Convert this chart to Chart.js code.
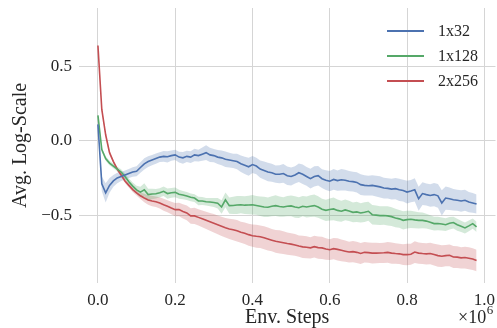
<!DOCTYPE html>
<html>
<head>
<meta charset="utf-8">
<script src="https://cdn.jsdelivr.net/npm/chart.js@4/dist/chart.umd.min.js"></script>
<style>
html,body{margin:0;padding:0;background:#fff;}
#wrap{width:497px;height:328px;position:relative;}
</style>
</head>
<body>
<div id="wrap"><canvas id="c" width="497" height="328"></canvas></div>
<script>
const steps = [0.00,0.01,0.02,0.03,0.04,0.05,0.06,0.07,0.08,0.09,
0.10,0.11,0.12,0.13,0.14,0.15,0.16,0.17,0.18,0.19,
0.20,0.21,0.22,0.23,0.24,0.25,0.26,0.27,0.28,0.29,
0.30,0.31,0.32,0.33,0.34,0.35,0.36,0.37,0.38,0.39,
0.40,0.41,0.42,0.43,0.44,0.45,0.46,0.47,0.48,0.49,
0.50,0.51,0.52,0.53,0.54,0.55,0.56,0.57,0.58,0.59,
0.60,0.61,0.62,0.63,0.64,0.65,0.66,0.67,0.68,0.69,
0.70,0.71,0.72,0.73,0.74,0.75,0.76,0.77,0.78,0.79,
0.80,0.81,0.82,0.83,0.84,0.85,0.86,0.87,0.88,0.89,
0.90,0.91,0.92,0.93,0.94,0.95,0.96,0.97,0.98];

const seriesNames = ["1x32","1x128","2x256"];

const mean1x32 = [0.11,-0.29,-0.35,-0.30,-0.27,-0.25,-0.24,-0.23,-0.22,-0.21,
-0.205,-0.18,-0.155,-0.14,-0.13,-0.12,-0.11,-0.105,-0.108,-0.10,
-0.095,-0.11,-0.115,-0.105,-0.11,-0.095,-0.10,-0.09,-0.08,-0.095,
-0.10,-0.11,-0.115,-0.125,-0.13,-0.135,-0.14,-0.155,-0.165,-0.175,
-0.16,-0.17,-0.19,-0.20,-0.21,-0.215,-0.225,-0.225,-0.22,-0.235,
-0.24,-0.23,-0.215,-0.225,-0.24,-0.255,-0.24,-0.235,-0.255,-0.265,
-0.272,-0.26,-0.268,-0.262,-0.265,-0.272,-0.275,-0.28,-0.295,-0.30,
-0.302,-0.30,-0.305,-0.31,-0.318,-0.32,-0.325,-0.322,-0.33,-0.335,
-0.345,-0.338,-0.33,-0.39,-0.355,-0.362,-0.368,-0.362,-0.37,-0.418,
-0.385,-0.39,-0.396,-0.40,-0.405,-0.40,-0.412,-0.418,-0.425];

const mean1x128 = [0.17,-0.06,-0.12,-0.15,-0.17,-0.19,-0.21,-0.24,-0.275,-0.305,
-0.33,-0.345,-0.33,-0.362,-0.358,-0.356,-0.35,-0.34,-0.355,-0.35,
-0.347,-0.36,-0.365,-0.372,-0.38,-0.385,-0.405,-0.405,-0.41,-0.412,
-0.415,-0.42,-0.445,-0.397,-0.436,-0.435,-0.432,-0.43,-0.433,-0.432,
-0.43,-0.435,-0.44,-0.445,-0.447,-0.44,-0.436,-0.442,-0.445,-0.44,
-0.438,-0.445,-0.45,-0.44,-0.445,-0.44,-0.436,-0.445,-0.46,-0.468,
-0.462,-0.458,-0.468,-0.474,-0.465,-0.472,-0.481,-0.478,-0.485,-0.48,
-0.474,-0.497,-0.50,-0.503,-0.502,-0.505,-0.51,-0.519,-0.525,-0.535,
-0.53,-0.528,-0.532,-0.535,-0.535,-0.54,-0.548,-0.557,-0.556,-0.56,
-0.564,-0.555,-0.55,-0.565,-0.575,-0.586,-0.572,-0.557,-0.579];

const mean2x256 = [0.64,0.21,0.04,-0.08,-0.14,-0.19,-0.23,-0.27,-0.30,-0.328,
-0.35,-0.37,-0.385,-0.398,-0.405,-0.41,-0.418,-0.43,-0.44,-0.452,
-0.463,-0.462,-0.475,-0.485,-0.505,-0.505,-0.515,-0.525,-0.535,-0.545,
-0.555,-0.565,-0.575,-0.585,-0.593,-0.598,-0.605,-0.615,-0.622,-0.631,
-0.638,-0.642,-0.645,-0.652,-0.66,-0.668,-0.676,-0.68,-0.685,-0.691,
-0.695,-0.70,-0.708,-0.713,-0.716,-0.72,-0.712,-0.718,-0.72,-0.728,
-0.732,-0.725,-0.73,-0.736,-0.742,-0.748,-0.745,-0.75,-0.758,-0.75,
-0.752,-0.755,-0.755,-0.754,-0.753,-0.75,-0.755,-0.758,-0.76,-0.765,
-0.765,-0.763,-0.748,-0.755,-0.758,-0.76,-0.758,-0.765,-0.772,-0.776,
-0.772,-0.77,-0.781,-0.782,-0.787,-0.785,-0.79,-0.795,-0.805];

const spread1x32 = [0.01,0.05,0.065,0.05,0.04,0.035,0.03,0.03,0.03,0.032,
0.033,0.035,0.038,0.036,0.034,0.035,0.033,0.036,0.038,0.035,
0.034,0.036,0.04,0.038,0.04,0.042,0.04,0.045,0.05,0.048,
0.045,0.047,0.05,0.052,0.05,0.048,0.052,0.055,0.058,0.06,
0.057,0.055,0.058,0.06,0.062,0.06,0.058,0.06,0.063,0.062,
0.06,0.058,0.062,0.065,0.063,0.066,0.068,0.065,0.063,0.066,
0.068,0.07,0.068,0.072,0.07,0.068,0.066,0.068,0.07,0.068,
0.066,0.068,0.07,0.072,0.07,0.068,0.07,0.072,0.075,0.073,
0.076,0.075,0.078,0.08,0.076,0.074,0.076,0.078,0.08,0.085,
0.078,0.075,0.072,0.07,0.072,0.07,0.068,0.066,0.064];

const spread1x128 = [0.01,0.015,0.015,0.015,0.015,0.016,0.018,0.02,0.022,0.025,
0.028,0.035,0.045,0.04,0.035,0.032,0.03,0.032,0.034,0.033,
0.032,0.03,0.028,0.027,0.026,0.026,0.028,0.027,0.026,0.028,
0.03,0.035,0.045,0.05,0.055,0.058,0.06,0.058,0.06,0.062,
0.065,0.063,0.066,0.068,0.065,0.067,0.07,0.068,0.066,0.068,
0.07,0.072,0.07,0.068,0.07,0.073,0.075,0.072,0.07,0.072,
0.074,0.076,0.073,0.071,0.07,0.068,0.066,0.068,0.065,0.066,
0.064,0.066,0.065,0.063,0.062,0.064,0.063,0.062,0.06,0.062,
0.06,0.058,0.056,0.055,0.053,0.05,0.048,0.046,0.045,0.044,
0.043,0.042,0.04,0.04,0.038,0.037,0.036,0.035,0.035];

const spread2x256 = [0.008,0.012,0.012,0.012,0.012,0.012,0.013,0.014,0.015,0.016,
0.018,0.022,0.028,0.032,0.035,0.036,0.038,0.04,0.04,0.042,
0.045,0.046,0.048,0.05,0.052,0.054,0.055,0.056,0.058,0.06,
0.062,0.063,0.065,0.066,0.068,0.07,0.072,0.07,0.072,0.074,
0.075,0.077,0.076,0.078,0.077,0.075,0.077,0.078,0.076,0.075,
0.074,0.073,0.072,0.075,0.074,0.072,0.073,0.075,0.074,0.072,
0.07,0.072,0.074,0.073,0.071,0.07,0.072,0.071,0.07,0.069,
0.068,0.07,0.069,0.067,0.068,0.07,0.071,0.069,0.068,0.07,
0.072,0.071,0.073,0.072,0.07,0.071,0.072,0.073,0.074,0.073,
0.072,0.073,0.074,0.073,0.072,0.073,0.074,0.073,0.072];

const xTicks = [0.0,0.2,0.4,0.6,0.8,1.0];
const yTicks = [-0.5,0.0,0.5];

const means = [mean1x32, mean1x128, mean2x256];
const spreads = [spread1x32, spread1x128, spread2x256];
const lineColors = ["#4C72B0","#55A868","#C44E52"];
const bandColors = ["rgba(76,114,176,0.25)","rgba(85,168,104,0.25)","rgba(196,78,82,0.25)"];

const FONT = "'Liberation Serif', 'Times New Roman', serif";
const TXT = "#262626";

const datasets = [];
means.forEach((m, i) => {
  datasets.push({
    label: seriesNames[i] + " lo",
    data: steps.map((x, k) => ({x: x, y: m[k] - spreads[i][k]})),
    borderWidth: 0, pointRadius: 0, fill: false, order: 2,
    borderColor: "rgba(0,0,0,0)"
  });
  datasets.push({
    label: seriesNames[i] + " hi",
    data: steps.map((x, k) => ({x: x, y: m[k] + spreads[i][k]})),
    borderWidth: 0, pointRadius: 0, fill: "-1", order: 2,
    borderColor: "rgba(0,0,0,0)", backgroundColor: bandColors[i]
  });
});
means.forEach((m, i) => {
  datasets.push({
    label: seriesNames[i],
    data: steps.map((x, k) => ({x: x, y: m[k]})),
    borderColor: lineColors[i], borderWidth: 1.6, pointRadius: 0,
    fill: false, order: 0, tension: 0
  });
});

const textPlugin = {
  id: "texts",
  afterDraw(chart) {
    const ctx = chart.ctx;
    const ca = chart.chartArea;
    ctx.save();
    ctx.fillStyle = TXT;
    ctx.font = "20px " + FONT;
    ctx.textAlign = "center";
    ctx.textBaseline = "middle";
    ctx.save();
    ctx.translate(21, (ca.top + ca.bottom) / 2);
    ctx.rotate(-Math.PI / 2);
    ctx.fillText("Avg. Log-Scale", 0, 0);
    ctx.restore();
    ctx.fillText("Env. Steps", (ca.left + ca.right) / 2, 318);
    ctx.textAlign = "left";
    ctx.font = "18px " + FONT;
    ctx.fillText("\u00d710", 458, 318);
    const w = ctx.measureText("\u00d710").width;
    ctx.font = "13px " + FONT;
    ctx.fillText("6", 458 + w + 0.5, 311);
    ctx.font = "16px " + FONT;
    const ly = [31, 56, 81];
    seriesNames.forEach((n, i) => {
      ctx.strokeStyle = lineColors[i];
      ctx.lineWidth = 1.8;
      ctx.beginPath();
      ctx.moveTo(387, ly[i]);
      ctx.lineTo(424, ly[i]);
      ctx.stroke();
      ctx.fillStyle = TXT;
      ctx.fillText(n, 438, ly[i] + 1);
    });
    ctx.restore();
  }
};

function zeroPad(s) {
  s.paddingTop = 0; s.paddingBottom = 0; s.paddingLeft = 0; s.paddingRight = 0;
}

new Chart(document.getElementById("c"), {
  type: "line",
  data: { datasets: datasets },
  options: {
    responsive: false,
    animation: false,
    devicePixelRatio: 1,
    layout: { padding: { top: 8, right: 1.5, left: 0, bottom: 0 } },
    plugins: { legend: { display: false }, tooltip: { enabled: false } },
    scales: {
      x: {
        type: "linear",
        min: -0.049, max: 1.029,
        afterBuildTicks: (s) => { s.ticks = xTicks.map(v => ({ value: v })); },
        afterFit: (s) => { s.height = 45; zeroPad(s); },
        grid: { color: "#d5d5d5", lineWidth: 1, drawTicks: false },
        border: { display: false },
        ticks: {
          padding: 7,
          color: TXT,
          font: { family: FONT, size: 17 },
          maxRotation: 0,
          callback: (v) => Number(v).toFixed(1)
        }
      },
      y: {
        type: "linear",
        min: -0.956, max: 0.892,
        afterBuildTicks: (s) => { s.ticks = yTicks.map(v => ({ value: v })); },
        afterFit: (s) => { s.width = 79; zeroPad(s); },
        grid: { color: "#d5d5d5", lineWidth: 1, drawTicks: false },
        border: { display: false },
        ticks: {
          padding: 7,
          color: TXT,
          font: { family: FONT, size: 17 },
          callback: (v) => (v < 0 ? "\u2212" : "") + Math.abs(v).toFixed(1)
        }
      }
    }
  },
  plugins: [textPlugin]
});
</script>
</body>
</html>
